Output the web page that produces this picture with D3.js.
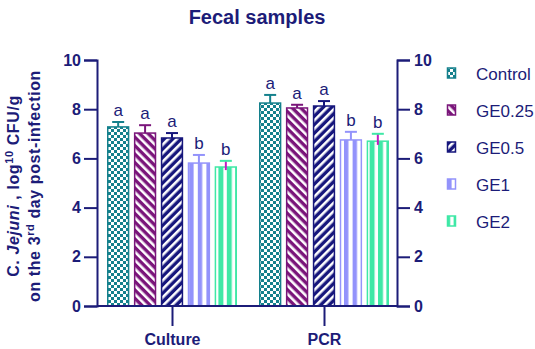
<!DOCTYPE html>
<html>
<head>
<meta charset="utf-8">
<script src="https://cdn.jsdelivr.net/npm/d3@7"></script>
<style>
  body { margin: 0; background: #fff; }
  text { font-family: "Liberation Sans", Arial, sans-serif; }
</style>
</head>
<body>
<div id="chart"></div>
<script>
// fecal samples - grouped bars with sd and letters
const groups = ["Culture", "PCR"];
const series = ["Control", "GE0.25", "GE0.5", "GE1", "GE2"];
const cultureMeans = [7.28, 7.03, 6.83, 5.81, 5.65];
const cultureSd = [0.2, 0.32, 0.2, 0.33, 0.25];
const pcrMeans = [8.25, 8.05, 8.13, 6.75, 6.7];
const pcrSd = [0.33, 0.13, 0.2, 0.33, 0.3];
const cultureLetters = ["a", "a", "a", "b", "b"];
const pcrLetters = ["a", "a", "a", "b", "b"];
const yTicks = [0, 2, 4, 6, 8, 10];

const navy = "#1c1c78";
const colors = ["#14808c", "#7a157a", "#16167c", "#9393fb", "#3fe8a6"];
const stemColors = ["#14808c", "#7a157a", "#16167c", "#9393fb", "#c21ac2"];

const W = 535, H = 349;
const svg = d3.select("#chart").append("svg")
    .attr("width", W).attr("height", H);

const defs = svg.append("defs");

// checker for control
let p0 = defs.append("pattern").attr("id", "pat0")
    .attr("patternUnits", "userSpaceOnUse").attr("width", 6).attr("height", 6);
p0.append("rect").attr("width", 6).attr("height", 6).attr("fill", "#fff");
p0.append("rect").attr("width", 3).attr("height", 3).attr("fill", colors[0]);
p0.append("rect").attr("x", 3).attr("y", 3).attr("width", 3).attr("height", 3).attr("fill", colors[0]);

// diagonal stripes
const diag = (id, col, rot) => {
  let p = defs.append("pattern").attr("id", id)
      .attr("patternUnits", "userSpaceOnUse").attr("width", 6).attr("height", 6)
      .attr("patternTransform", `rotate(${rot})`);
  p.append("rect").attr("width", 6).attr("height", 6).attr("fill", col);
  p.append("rect").attr("width", 2.6).attr("height", 6).attr("fill", "#fff");
};
diag("pat1", colors[1], -45);
diag("pat2", colors[2], 45);

// vertical stripes
const vert = (id, col, w, stripe) => {
  let p = defs.append("pattern").attr("id", id)
      .attr("patternUnits", "userSpaceOnUse").attr("width", w).attr("height", 10);
  p.append("rect").attr("width", w).attr("height", 10).attr("fill", "#fff");
  p.append("rect").attr("width", stripe).attr("height", 10).attr("fill", col);
};
vert("pat3", colors[3], 8.6, 4.4);
vert("pat4", colors[4], 8.4, 5);

const x0 = 97, x1 = 397;
const y = d3.scaleLinear().domain([0, 10]).range([306, 60]);
const xg = d3.scalePoint().domain(groups).range([172, 324]);
const xs = d3.scaleBand().domain(series).range([-65, 65]).paddingInner(0.17);

// title
svg.append("text").attr("x", 257).attr("y", 24)
    .attr("text-anchor", "middle").attr("font-size", 20).attr("font-weight", "bold")
    .attr("fill", navy).text("Fecal samples");

// y axis label
const yl = svg.append("g").attr("transform", "translate(19,186) rotate(-90)")
    .attr("fill", navy).attr("font-weight", "bold").attr("font-size", 16)
    .attr("letter-spacing", 0.6);
const l1 = yl.append("text").attr("text-anchor", "middle").attr("y", 0);
l1.append("tspan").text("C. ");
l1.append("tspan").attr("font-style", "italic").text("Jejuni");
l1.append("tspan").text(" ,  log");
l1.append("tspan").attr("font-size", 11).attr("dy", -6).text("10");
l1.append("tspan").attr("dy", 6).text(" CFU/g");
const l2 = yl.append("text").attr("text-anchor", "middle").attr("y", 21);
l2.append("tspan").text("on the 3");
l2.append("tspan").attr("font-size", 11).attr("dy", -6).text("rd");
l2.append("tspan").attr("dy", 6).text(" day  post-infection");

// data
const rows = [];
groups.forEach((g, gi) => {
  const m = gi == 0 ? cultureMeans : pcrMeans;
  const s = gi == 0 ? cultureSd : pcrSd;
  const l = gi == 0 ? cultureLetters : pcrLetters;
  series.forEach((k, i) => rows.push({g: g, k: k, i: i, v: m[i], sd: s[i], letter: l[i]}));
});

const bars = svg.append("g");
bars.selectAll("rect").data(rows).enter().append("rect")
    .attr("x", d => xg(d.g) + xs(d.k) + 0.75)
    .attr("y", d => y(d.v))
    .attr("width", xs.bandwidth() - 1.5)
    .attr("height", d => y(0) - y(d.v))
    .attr("fill", d => `url(#pat${d.i})`)
    .attr("stroke", d => colors[d.i])
    .attr("stroke-width", 1.5);

// error bars
const err = svg.append("g");
rows.forEach(d => {
  const cx = xg(d.g) + xs(d.k) + xs.bandwidth() / 2;
  const lo = d.i == 4 ? y(d.v - d.sd * 0.5) : y(d.v);
  err.append("line").attr("x1", cx).attr("x2", cx)
      .attr("y1", lo).attr("y2", y(d.v + d.sd))
      .attr("stroke", stemColors[d.i]).attr("stroke-width", 2);
  err.append("line").attr("x1", cx - 6).attr("x2", cx + 6)
      .attr("y1", y(d.v + d.sd)).attr("y2", y(d.v + d.sd))
      .attr("stroke", colors[d.i]).attr("stroke-width", 2);
  err.append("text").attr("x", cx).attr("y", y(d.v + d.sd) - 6)
      .attr("text-anchor", "middle").attr("font-size", 17)
      .attr("fill", navy).text(d.letter);
});

// axes
const axL = svg.append("g").attr("transform", `translate(${x0},0)`)
    .call(d3.axisLeft(y).tickValues(yTicks).tickSize(13).tickPadding(3).tickFormat(d3.format("d")));
const axR = svg.append("g").attr("transform", `translate(${x1},0)`)
    .call(d3.axisRight(y).tickValues(yTicks).tickSize(13).tickPadding(4).tickFormat(d3.format("d")));
const axB = svg.append("g").attr("transform", `translate(0,${y(0)})`)
    .call(d3.axisBottom(xg).tickSize(20).tickPadding(8));
axB.select(".domain").attr("d", `M${x0},0H${x1}`);

[axL, axR, axB].forEach(a => {
  a.select(".domain").attr("stroke", navy).attr("stroke-width", 2);
  a.selectAll(".tick line").attr("stroke", navy).attr("stroke-width", 2);
  a.selectAll(".tick text").attr("fill", navy).attr("font-weight", "bold")
      .attr("font-size", 16).attr("font-family", "Liberation Sans, Arial, sans-serif");
});

// legend
const leg = svg.append("g");
series.forEach((k, i) => {
  const ly = 74 + i * 37;
  leg.append("rect").attr("x", 447.5).attr("y", ly - 6).attr("width", 8).attr("height", 10)
      .attr("fill", `url(#pat${i})`).attr("stroke", colors[i]).attr("stroke-width", 1.5);
  leg.append("text").attr("x", 476).attr("y", ly + 6).attr("font-size", 17)
      .attr("fill", navy).text(k);
});
</script>
</body>
</html>
